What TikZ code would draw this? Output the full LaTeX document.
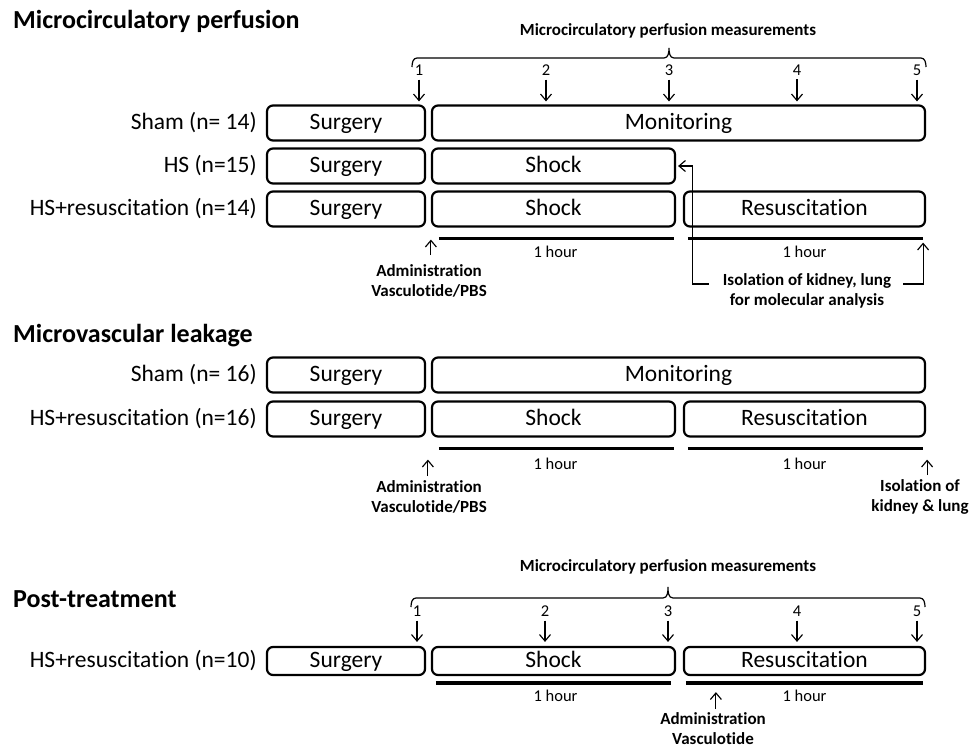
\documentclass[tikz,border=0pt]{standalone}
\usepackage{fontspec}
\setmainfont{Carlito}[Ligatures={NoCommon,NoRequired}]
\usetikzlibrary{arrows.meta,positioning,calc}

\begin{document}
\begin{tikzpicture}[
    x=1pt, y=-1pt,
    phase/.style={draw, line width=2.2pt, rounded corners=6pt, inner sep=0pt, minimum height=35pt, fill=white,
        text height=16pt, text depth=4pt, font=\fontsize{23.5}{27}\selectfont},
    grp/.style={inner sep=0pt, text height=16pt, text depth=4pt, font=\fontsize{23.5}{27}\selectfont},
    title/.style={anchor=base west, inner sep=0pt, font=\fontsize{26}{30}\selectfont\bfseries},
    note/.style={align=center, inner sep=0pt, font=\fontsize{17}{20}\selectfont\bfseries},
    hour/.style={inner sep=0pt, font=\fontsize{16.5}{19}\selectfont},
    num/.style={inner sep=0pt, font=\fontsize{16.5}{19}\selectfont},
    bar/.style={line width=3.5pt},
    tick/.style={-{Straight Barb[length=6.5pt,width=11pt]}, line width=1.15pt},
    brc/.style={line width=1.2pt}
]
    \useasboundingbox (0,0) rectangle (970,747);

    % Microcirculatory perfusion
    \node[title] (t1) at (13,28) {Microcirculatory perfusion};
    \node[note] (mpm1) at (668,31) {Microcirculatory perfusion measurements};
    \draw[brc] (412,67) to[out=90,in=180] (417,58) -- (664,58) to[out=0,in=-90] (669,48)
        to[out=-90,in=180] (674,58) -- (921,58) to[out=0,in=90] (926,67);

    \node[phase, minimum width=158pt] (su1) at (346,123) {Surgery};
    \node[phase, minimum width=493pt] (mo1) at (678.5,123) {Monitoring};
    \node[phase, minimum width=158pt] (su2) at (346,166) {Surgery};
    \node[phase, minimum width=243pt] (sh2) at (553.5,166) {Shock};
    \node[phase, minimum width=158pt] (su3) at (346,209) {Surgery};
    \node[phase, minimum width=243pt] (sh3) at (553.5,209) {Shock};
    \node[phase, minimum width=241pt] (re3) at (804.5,209) {Resuscitation};

    \node[grp, left=9pt of su1] (g1) {Sham (n= 14)};
    \node[grp, left=9pt of su2] (g2) {HS (n=15)};
    \node[grp, left=9pt of su3] (g3) {HS+resuscitation (n=14)};

    \foreach \i/\x in {1/419,2/546,3/669,4/797,5/917} {
        \node[num] (a\i) at (\x,70) {\i};
        \draw[tick] ([yshift=-4pt]a\i.south) -- ([yshift=3pt]a\i.south |- mo1.north);
    }

    \draw[bar] ([shift={(8,11)}]sh3.south west) -- ([shift={(-2,11)}]sh3.south east);
    \draw[bar] ([shift={(5,11)}]re3.south west) -- ([shift={(-3,11)}]re3.south east);
    \node[hour] at ([shift={(2,24)}]sh3.south) {1 hour};
    \node[hour] at ([shift={(0,24)}]re3.south) {1 hour};

    \coordinate (adm1) at ([shift={(0,12)}]sh3.south west);
    \node[note, anchor=north] (ad1) at (429,264) {Administration\\Vasculotide/PBS};
    \draw[tick] ([yshift=9pt]ad1.north -| adm1) -- (adm1);

    \coordinate (rb1) at ([shift={(-3,15)}]re3.south east);
    \node[note, anchor=north] (iso1) at (807,273) {Isolation of kidney, lung\\for molecular analysis};
    \draw[tick] ([shift={(-14,11)}]iso1.north west) -| ([xshift=16pt]sh2.east) -- ([xshift=2pt]sh2.east);
    \draw[tick] ([shift={(12,11)}]iso1.north east) -| (rb1);

    % Microvascular leakage
    \node[title] (t2) at (13,342) {Microvascular leakage};

    \node[phase, minimum width=158pt] (su4) at (346,375) {Surgery};
    \node[phase, minimum width=493pt] (mo4) at (678.5,375) {Monitoring};
    \node[phase, minimum width=158pt] (su5) at (346,419) {Surgery};
    \node[phase, minimum width=243pt] (sh5) at (553.5,419) {Shock};
    \node[phase, minimum width=241pt] (re5) at (804.5,419) {Resuscitation};

    \node[grp, left=9pt of su4] (g4) {Sham (n= 16)};
    \node[grp, left=9pt of su5] (g5) {HS+resuscitation (n=16)};

    \draw[bar] ([shift={(8,11)}]sh5.south west) -- ([shift={(-2,11)}]sh5.south east);
    \draw[bar] ([shift={(5,11)}]re5.south west) -- ([shift={(-3,11)}]re5.south east);
    \node[hour] at ([shift={(2,26)}]sh5.south) {1 hour};
    \node[hour] at ([shift={(0,26)}]re5.south) {1 hour};

    \coordinate (adm2) at ([shift={(-3,22)}]sh5.south west);
    \node[note, anchor=north] (ad2) at (429,480) {Administration\\Vasculotide/PBS};
    \draw[tick] ([yshift=4pt]ad2.north -| adm2) -- (adm2);

    \coordinate (rb2) at ([shift={(1,22)}]re5.south east);
    \node[note, anchor=north] (iso2) at (920,479) {Isolation of\\kidney \& lung};
    \draw[tick] ([yshift=4pt]iso2.north -| rb2) -- (rb2);

    % Post-treatment
    \node[title] (t3) at (13,607) {Post-treatment};
    \node[note] (mpm3) at (668,567) {Microcirculatory perfusion measurements};
    \draw[brc] (411,607) to[out=90,in=180] (416,598) -- (663,598) to[out=0,in=-90] (668,587)
        to[out=-90,in=180] (673,598) -- (920,598) to[out=0,in=90] (925,607);

    \node[phase, minimum width=158pt, minimum height=28pt] (su6) at (346,661) {Surgery};
    \node[phase, minimum width=243pt, minimum height=28pt] (sh6) at (553.5,661) {Shock};
    \node[phase, minimum width=241pt, minimum height=28pt] (re6) at (804.5,661) {Resuscitation};

    \node[grp, left=9pt of su6] (g6) {HS+resuscitation (n=10)};

    \foreach \i/\x in {1/417,2/545,3/668,4/797,5/917} {
        \node[num] (b\i) at (\x,611) {\i};
        \draw[tick] ([yshift=-4pt]b\i.south) -- ([yshift=4pt]b\i.south |- re6.north);
    }

    \draw[bar] ([shift={(5,7)}]sh6.south west) -- ([shift={(-5,7)}]sh6.south east);
    \draw[bar] ([shift={(3,7)}]re6.south west) -- ([shift={(-3,7)}]re6.south east);
    \node[hour] at ([shift={(2,20)}]sh6.south) {1 hour};
    \node[hour] at ([shift={(0,20)}]re6.south) {1 hour};

    \coordinate (adm3) at ([shift={(33,16)}]re6.south west);
    \node[note, anchor=north] (ad3) at (713,712) {Administration\\Vasculotide};
    \draw[tick] ([yshift=3pt]ad3.north -| adm3) -- (adm3);
\end{tikzpicture}
\end{document}
